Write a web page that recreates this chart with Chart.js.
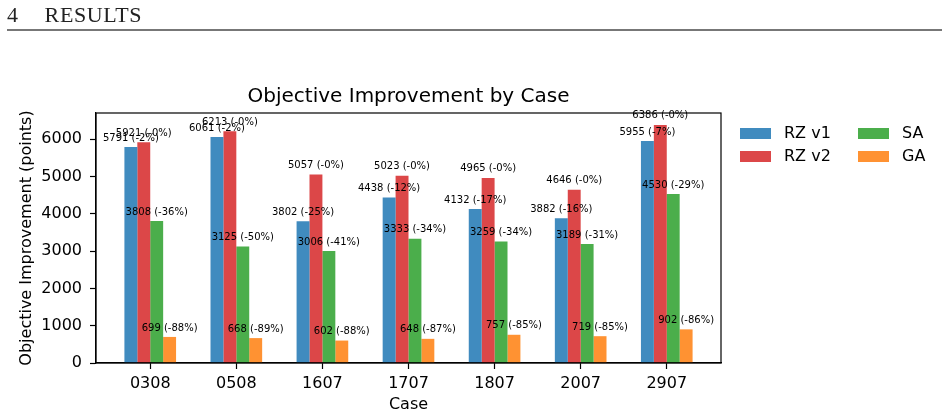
<!DOCTYPE html>
<html>
<head>
<meta charset="utf-8">
<script src="https://cdn.jsdelivr.net/npm/chart.js@4"></script>
<style>
  html, body { margin: 0; padding: 0; background: #fff; }
  #wrap { position: relative; width: 948px; height: 418px; overflow: hidden; }
  #chart { position: absolute; left: 0; top: 0; }
  #header {
    position: absolute; left: 7px; top: 2px;
    font-family: "Liberation Serif", "DejaVu Serif", serif;
    font-size: 22px; color: #222; letter-spacing: 0.6px;
  }
  #header span { margin-right: 26px; }
  #rule { position: absolute; left: 7px; top: 29px; width: 935px; height: 0; border-top: 2px solid #777; }
</style>
</head>
<body>
<div id="wrap">
  <canvas id="chart" width="948" height="418"></canvas>
  <div id="header"><span>4</span>RESULTS</div>
  <div id="rule"></div>
</div>
<script>
// Objective improvement per case
const CASES = ["0308", "0508", "1607", "1707", "1807", "2007", "2907"]
const RZ_V1 = [5791, 6061, 3802, 4438, 4132, 3882, 5955]
const RZ_V2 = [5921, 6213, 5057, 5023, 4965, 4646, 6386]
const SA = [3808, 3125, 3006, 3333, 3259, 3189, 4530]
const GA = [699, 668, 602, 648, 757, 719, 902]
// percentage labels as printed above the bars
const RZ_V1_PCT = ["-2", "-2", "-25", "-12", "-17", "-16", "-7"]
const RZ_V2_PCT = ["-0", "-0", "-0", "-0", "-0", "-0", "-0"]
const SA_PCT = ["-36", "-50", "-41", "-34", "-34", "-31", "-29"]
const GA_PCT = ["-88", "-89", "-88", "-87", "-85", "-85", "-86"]
const Y_TICKS = [0, 1000, 2000, 3000, 4000, 5000, 6000]

const FONT = "'DejaVu Sans', sans-serif"

function toPoints(values) {
  return values.map((v, i) => ({ x: i, y: v }))
}

const series = [
  { label: "RZ v1", data: RZ_V1, pct: RZ_V1_PCT, color: "rgba(31, 119, 180, 0.85)" },
  { label: "RZ v2", data: RZ_V2, pct: RZ_V2_PCT, color: "rgba(214, 39, 40, 0.85)" },
  { label: "SA", data: SA, pct: SA_PCT, color: "rgba(44, 160, 44, 0.85)" },
  { label: "GA", data: GA, pct: GA_PCT, color: "rgba(255, 127, 14, 0.85)" },
]

// value labels above each bar
const barLabels = {
  id: "barLabels",
  afterDatasetsDraw(chart) {
    const ctx = chart.ctx
    ctx.save()
    ctx.font = "10px " + FONT
    ctx.fillStyle = "#000"
    ctx.textAlign = "center"
    ctx.textBaseline = "bottom"
    chart.data.datasets.forEach((ds, di) => {
      const meta = chart.getDatasetMeta(di)
      meta.data.forEach((bar, i) => {
        ctx.fillText(series[di].data[i] + " (" + series[di].pct[i] + "%)", bar.x, bar.y - 4)
      })
    })
    ctx.restore()
  },
}

// full box around the plot + two column legend
const frameAndLegend = {
  id: "frameAndLegend",
  afterDraw(chart) {
    const ctx = chart.ctx
    const a = chart.chartArea
    ctx.save()
    ctx.strokeStyle = "#000"
    ctx.lineWidth = 1.2
    ctx.strokeRect(a.left, a.top, a.right - a.left, a.bottom - a.top)

    const cols = [740, 858]
    const rows = [133.5, 156.5]
    ctx.font = "16px " + FONT
    ctx.textBaseline = "middle"
    ctx.textAlign = "left"
    series.forEach((s, i) => {
      const x = cols[Math.floor(i / 2)]
      const y = rows[i % 2]
      ctx.fillStyle = s.color
      ctx.fillRect(x, y - 5.5, 31, 11)
      ctx.fillStyle = "#000"
      ctx.fillText(s.label, x + 44, y)
    })
    ctx.restore()
  },
}

new Chart(document.getElementById("chart").getContext("2d"), {
  type: "bar",
  data: {
    datasets: series.map((s) => ({
      label: s.label,
      data: toPoints(s.data),
      backgroundColor: s.color,
      borderWidth: 0,
      categoryPercentage: 0.6,
      barPercentage: 1.0,
    })),
  },
  options: {
    responsive: false,
    animation: false,
    layout: { padding: { left: 0, right: 227, top: 0, bottom: 0 } },
    plugins: {
      legend: { display: false },
      tooltip: { enabled: false },
      title: {
        display: true,
        text: "Objective Improvement by Case",
        fullSize: false,
        color: "#000",
        font: { family: FONT, size: 20, weight: "normal" },
        padding: { top: 85, bottom: 4 },
      },
    },
    scales: {
      x: {
        type: "linear",
        offset: false,
        min: -0.63,
        max: 6.63,
        afterBuildTicks: (axis) => {
          axis.ticks = CASES.map((c, i) => ({ value: i }))
        },
        afterFit: (axis) => {
          axis.height = 55
        },
        ticks: {
          callback: (v) => CASES[v],
          color: "#000",
          font: { family: FONT, size: 16 },
          padding: 5,
          maxRotation: 0,
          autoSkip: false,
        },
        grid: { offset: false, drawOnChartArea: false, drawTicks: true, tickLength: 6, color: "#000", tickWidth: 1.2 },
        border: { display: true, color: "#000", width: 1.2 },
        title: {
          display: true,
          text: "Case",
          color: "#000",
          font: { family: FONT, size: 16 },
          padding: { top: 0, bottom: 4 },
        },
      },
      y: {
        min: 0,
        max: 6705,
        afterBuildTicks: (axis) => {
          axis.ticks = Y_TICKS.map((v) => ({ value: v }))
        },
        afterFit: (axis) => {
          axis.width = 96
        },
        ticks: {
          callback: (v) => String(v),
          color: "#000",
          font: { family: FONT, size: 16 },
          padding: 8,
        },
        grid: { drawOnChartArea: false, drawTicks: true, tickLength: 6, color: "#000", tickWidth: 1.2 },
        border: { display: true, color: "#000", width: 1.2 },
        title: {
          display: true,
          text: "Objective Improvement (points)",
          color: "#000",
          font: { family: FONT, size: 16 },
          padding: { top: 17, bottom: 0 },
        },
      },
    },
  },
  plugins: [barLabels, frameAndLegend],
})
</script>
</body>
</html>
